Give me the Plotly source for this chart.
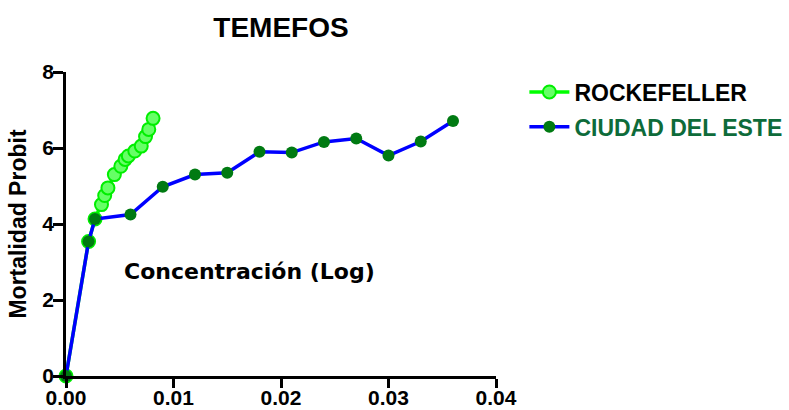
import plotly.graph_objects as go

# Data
rock_x = [0.0, 0.0021, 0.0027, 0.0033, 0.0036, 0.0039, 0.0045, 0.0051, 0.0055, 0.0058, 0.0064, 0.0070, 0.0074, 0.0077, 0.0081]
rock_y = [0.0, 3.54, 4.13, 4.51, 4.75, 4.95, 5.30, 5.52, 5.70, 5.79, 5.92, 6.05, 6.30, 6.49, 6.78]

cde_x = [0.0, 0.0021, 0.0027, 0.006, 0.009, 0.012, 0.015, 0.018, 0.021, 0.024, 0.027, 0.030, 0.033, 0.036]
cde_y = [0.0, 3.54, 4.13, 4.25, 4.98, 5.30, 5.35, 5.90, 5.88, 6.16, 6.25, 5.80, 6.17, 6.71]

x_ticks = [0.0, 0.01, 0.02, 0.03, 0.04]
x_tick_labels = ["0.00", "0.01", "0.02", "0.03", "0.04"]
y_ticks = [0, 2, 4, 6, 8]

fig = go.Figure()
fig.add_trace(go.Scatter(
    x=rock_x, y=rock_y, mode="lines+markers", name="<b>ROCKEFELLER</b>",
    legendgroup="a",
    line=dict(color="#00ff00", width=3.5),
    marker=dict(symbol="circle", size=13, color="#66ff66", line=dict(color="#00ee00", width=2)),
    cliponaxis=False,
))
fig.add_trace(go.Scatter(
    x=cde_x, y=cde_y, mode="lines+markers",
    name="<b><span style='color:#0e6b3a'>CIUDAD DEL ESTE</span></b>",
    legendgroup="b",
    line=dict(color="#0000ff", width=3.5),
    marker=dict(symbol="circle", size=12, color="#007a12", line=dict(width=0)),
    cliponaxis=False,
))

axis_font = dict(family="Liberation Sans, Arial", size=21, color="black")
fig.update_layout(
    width=789, height=410,
    margin=dict(l=66, r=293, t=72, b=34, autoexpand=False),
    paper_bgcolor="white", plot_bgcolor="white",
    title=dict(text="<b>TEMEFOS</b>", x=0.5, xref="paper", xanchor="center", y=1 - 27/410, yanchor="middle",
               font=dict(family="Liberation Sans, Arial", size=28, color="black")),
    showlegend=True,
    legend=dict(x=1.066, xanchor="left", y=1.005, yanchor="top",
                font=dict(family="Liberation Sans, Arial", size=23, color="black"),
                itemwidth=40, tracegroupgap=2, bgcolor="rgba(0,0,0,0)"),
    xaxis=dict(range=[0, 0.04], tickvals=x_ticks, ticktext=["<b>%s</b>" % t for t in x_tick_labels],
               showgrid=False, zeroline=False, showline=True, linecolor="black", linewidth=2.5,
               ticks="outside", ticklen=9, tickwidth=2.5, tickcolor="black", tickfont=axis_font,
               ticklabelstandoff=-8, automargin=False),
    yaxis=dict(range=[0, 8], tickvals=y_ticks, ticktext=["<b>%d</b>" % t for t in y_ticks],
               showgrid=False, zeroline=False, showline=True, linecolor="black", linewidth=2.5,
               ticks="outside", ticklen=10, tickwidth=2.5, tickcolor="black", tickfont=axis_font,
               ticklabelstandoff=-5, automargin=False,
               title=dict(text="<b>Mortalidad Probit</b>", standoff=10,
                          font=dict(family="Liberation Sans, Arial", size=23, color="black"))),
)
fig.add_annotation(text="<b>Concentración (Log)</b>", x=0.0052, y=2.75, xref="x", yref="y",
                   xanchor="left", yanchor="middle", showarrow=False,
                   font=dict(family="DejaVu Sans, Verdana", size=22, color="black"))

fig.write_html("out.html", config={"displayModeBar": False},
               post_script="document.body.style.margin='0';document.body.style.padding='0';")
